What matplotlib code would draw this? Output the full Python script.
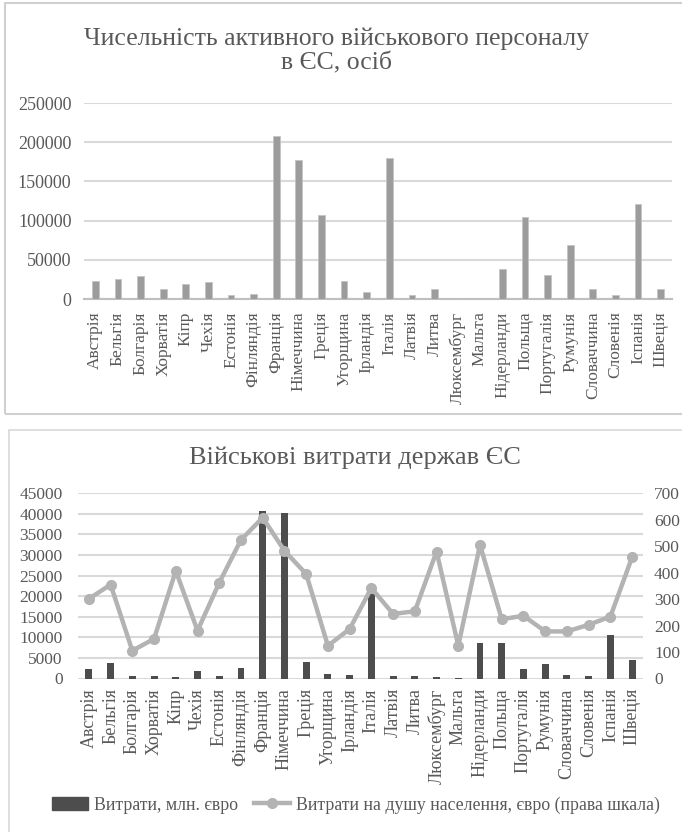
import matplotlib
matplotlib.use("Agg")
import matplotlib.pyplot as plt
import numpy as np
from matplotlib.patches import Rectangle
from matplotlib.lines import Line2D

plt.rcParams['font.family'] = ['Liberation Serif', 'DejaVu Serif']

countries = ["Австрія", "Бельгія", "Болгарія", "Хорватія", "Кіпр", "Чехія", "Естонія",
             "Фінляндія", "Франція", "Німеччина", "Греція", "Угорщина", "Ірландія", "Італія",
             "Латвія", "Литва", "Люксембург", "Мальта", "Нідерланди", "Польща", "Португалія",
             "Румунія", "Словаччина", "Словенія", "Іспанія", "Швеція"]

personnel = [23000, 26000, 29000, 13000, 19000, 21500, 5500, 6500, 208000, 177000,
             107000, 23000, 9000, 180000, 5300, 13000, 1500, 1700, 38000, 105000,
             31000, 69000, 12500, 5500, 121000, 13000]

spending = [2400, 3700, 700, 700, 300, 1900, 550, 2500, 40600, 40200,
            3900, 1000, 800, 20600, 500, 600, 250, 60, 8600, 8600,
            2200, 3500, 850, 550, 10600, 4500]

per_capita = [301, 355, 105, 150, 407, 181, 362, 524, 608, 483,
              395, 124, 187, 342, 244, 254, 480, 124, 505, 224,
              237, 178, 178, 203, 234, 459]

title_top = "Чисельність активного військового персоналу\nв ЄС, осіб"
title_bottom = "Військові витрати держав ЄС"
legend_labels = ["Витрати, млн. євро", "Витрати на душу населення, євро (права шкала)"]

W, H = 682, 832
fig = plt.figure(figsize=(W / 100, H / 100), dpi=100)
txt = '#595959'
grid = '#d9d9d9'

# chart frames
fig.patches.append(Rectangle((5 / W, 1 - 414 / H), 1.0, 411 / H, transform=fig.transFigure,
                             fill=False, edgecolor='#d0d0d0', linewidth=1.5))
fig.patches.append(Rectangle((9 / W, 1 - 840 / H), 1.0, 410 / H, transform=fig.transFigure,
                             fill=False, edgecolor='#d9d9d9', linewidth=1.2))

x = np.arange(len(countries))

# ---- top chart
ax1 = fig.add_axes([84 / W, 1 - 299 / H, (672 - 84) / W, (299 - 103) / H])
ax1.bar(x, personnel, width=0.3, color='#9c9c9c', edgecolor='#c4c4c4', linewidth=0.6, zorder=3)
ax1.set_ylim(0, 250000)
ax1.set_xlim(-0.5, len(countries) - 0.5)
ax1.set_yticks(np.arange(0, 250001, 50000))
ax1.yaxis.grid(True, color=grid, linewidth=1.5, zorder=0)
ax1.set_xticks(x)
ax1.set_xticklabels(countries, rotation=90, fontsize=12.5, color=txt)
ax1.tick_params(axis='y', length=0, pad=9, labelsize=13, labelcolor=txt)
ax1.tick_params(axis='x', length=0, pad=9)
for s in ['top', 'right', 'left']:
    ax1.spines[s].set_visible(False)
ax1.spines['bottom'].set_color('#bfbfbf')
ax1.spines['bottom'].set_linewidth(1.5)
fig.text(0.494, 1 - 51 / H, title_top, ha='center', va='center', fontsize=18.5,
         color=txt, linespacing=1.15)

# ---- bottom chart
ax2 = fig.add_axes([78 / W, 1 - 678.5 / H, (643 - 78) / W, (678.5 - 493.3) / H])
ax2.bar(x, spending, width=0.32, color='#4d4d4d', zorder=3)
ax2.set_ylim(0, 45000)
ax2.set_xlim(-0.5, len(countries) - 0.5)
ax2.set_yticks(np.arange(0, 45001, 5000))
ax2.yaxis.grid(True, color=grid, linewidth=1.5, zorder=0)
ax2.set_xticks(x)
ax2.set_xticklabels(countries, rotation=90, fontsize=13, color=txt)
ax2.tick_params(axis='y', length=0, pad=11, labelsize=12.5, labelcolor=txt)
ax2.tick_params(axis='x', length=0, pad=7)
for s in ['top', 'right', 'left', 'bottom']:
    ax2.spines[s].set_visible(False)

ax3 = ax2.twinx()
ax3.plot(x, per_capita, color='#b3b3b3', linewidth=3.2, marker='o', markersize=7,
         zorder=4)
ax3.set_ylim(0, 700)
ax3.set_yticks(np.arange(0, 701, 100))
ax3.tick_params(axis='y', length=0, pad=8, labelsize=12.5, labelcolor=txt)
for s in ['top', 'right', 'left', 'bottom']:
    ax3.spines[s].set_visible(False)

fig.text(0.52, 1 - 458 / H, title_bottom, ha='center', va='center', fontsize=19, color=txt)

handles = [Rectangle((0, 0), 1, 1, color='#4d4d4d'),
           Line2D([0], [0], color='#b3b3b3', linewidth=3.2, marker='o', markersize=7)]
fig.legend(handles, legend_labels, loc='center', bbox_to_anchor=(0.522, 1 - 805 / H),
           ncol=2, frameon=False, fontsize=12.8, labelcolor=txt, handlelength=2.0,
           handletextpad=0.35, columnspacing=0.9)

fig.savefig('out.png', dpi=100)
